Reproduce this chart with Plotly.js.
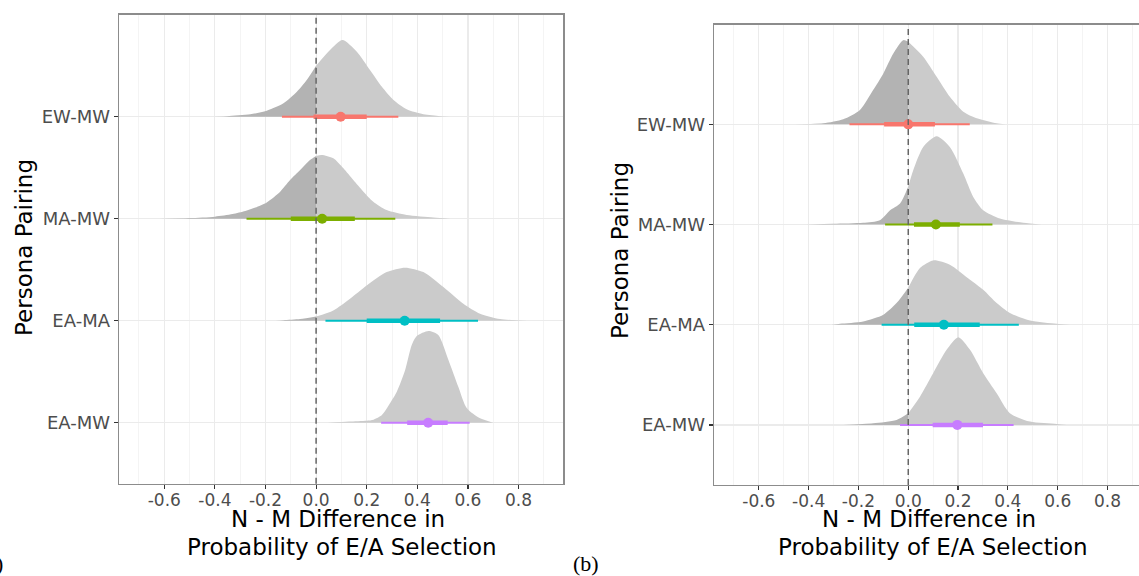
<!DOCTYPE html>
<html>
<head>
<meta charset="utf-8">
<script src="https://cdn.plot.ly/plotly-3.0.1.min.js"></script>
<style>html,body{margin:0;padding:0;background:#fff;}#chart{width:1139px;height:576px;}</style>
</head>
<body>
<div id="chart"></div>
<script>
// ---------- DATA ----------
// categories, bottom to top
const pairings = ['EA-MW', 'EA-MA', 'MA-MW', 'EW-MW'];
const xTickVals = [-0.6, -0.4, -0.2, 0, 0.2, 0.4, 0.6, 0.8];
const xTickText = ['-0.6', '-0.4', '-0.2', '0.0', '0.2', '0.4', '0.6', '0.8'];
const xMinorVals = [-0.7, -0.5, -0.3, -0.1, 0.1, 0.3, 0.5, 0.7, 0.9];

// Panel (a) interval summaries (order = pairings)
const aPoint = [0.443, 0.35, 0.024, 0.097];
const aLo66 = [0.36, 0.20, -0.10, -0.01];
const aHi66 = [0.52, 0.49, 0.153, 0.20];
const aLo95 = [0.257, 0.037, -0.275, -0.135];
const aHi95 = [0.607, 0.64, 0.313, 0.325];

// Panel (a) densities (x, height in row units)
const aEAMW_x = [0.045, 0.13, 0.2, 0.227, 0.26, 0.292, 0.319, 0.352, 0.378, 0.398, 0.444, 0.483, 0.523, 0.562, 0.596, 0.648, 0.70];
const aEAMW_h = [0, 0.012, 0.02, 0.03, 0.075, 0.19, 0.304, 0.517, 0.762, 0.85, 0.899, 0.86, 0.615, 0.353, 0.141, 0.043, 0];
const aEAMA_x = [-0.16, -0.129, -0.063, 0, 0.068, 0.134, 0.2, 0.279, 0.352, 0.424, 0.503, 0.582, 0.648, 0.727, 0.834];
const aEAMA_h = [0, 0.005, 0.016, 0.04, 0.101, 0.216, 0.346, 0.477, 0.52, 0.477, 0.33, 0.167, 0.069, 0.016, 0];
const aMAMW_x = [-0.62, -0.5, -0.4, -0.33, -0.28, -0.24, -0.195, -0.142, -0.103, -0.063, -0.024, 0, 0.022, 0.068, 0.108, 0.147, 0.187, 0.226, 0.279, 0.358, 0.464, 0.53];
const aMAMW_h = [0, 0.006, 0.02, 0.045, 0.075, 0.11, 0.16, 0.265, 0.379, 0.477, 0.575, 0.615, 0.625, 0.592, 0.494, 0.379, 0.265, 0.167, 0.085, 0.036, 0.012, 0];
const aEWMW_x = [-0.44, -0.353, -0.26, -0.195, -0.129, -0.076, -0.037, 0, 0.055, 0.104, 0.161, 0.213, 0.26, 0.306, 0.358, 0.424, 0.49, 0.53];
const aEWMW_h = [0, 0.005, 0.023, 0.059, 0.131, 0.245, 0.36, 0.5, 0.654, 0.752, 0.637, 0.458, 0.294, 0.164, 0.072, 0.023, 0.005, 0];

// Panel (b) interval summaries (order = pairings)
const bPoint = [0.197, 0.143, 0.111, 0.0];
const bLo66 = [0.098, 0.024, 0.023, -0.097];
const bHi66 = [0.30, 0.287, 0.207, 0.107];
const bLo95 = [-0.033, -0.107, -0.093, -0.236];
const bHi95 = [0.423, 0.444, 0.338, 0.247];

// Panel (b) densities
const bEAMW_x = [-0.26, -0.141, -0.047, 0, 0.047, 0.1, 0.154, 0.201, 0.248, 0.301, 0.355, 0.408, 0.489, 0.596, 0.637];
const bEAMW_h = [0, 0.017, 0.05, 0.117, 0.282, 0.516, 0.749, 0.875, 0.749, 0.516, 0.316, 0.117, 0.033, 0.01, 0];
const bEAMA_x = [-0.31, -0.274, -0.181, -0.1, -0.047, 0, 0.047, 0.1, 0.167, 0.248, 0.301, 0.355, 0.408, 0.489, 0.596, 0.652];
const bEAMA_h = [0, 0.01, 0.033, 0.1, 0.216, 0.37, 0.566, 0.642, 0.599, 0.449, 0.349, 0.216, 0.117, 0.043, 0.01, 0];
const bMAMW_x = [-0.41, -0.3, -0.181, -0.114, -0.073, -0.033, 0, 0.02, 0.06, 0.114, 0.167, 0.221, 0.261, 0.301, 0.368, 0.462, 0.536];
const bMAMW_h = [0, 0.007, 0.017, 0.043, 0.143, 0.21, 0.38, 0.542, 0.775, 0.881, 0.775, 0.509, 0.276, 0.143, 0.06, 0.017, 0];
const bEWMW_x = [-0.484, -0.341, -0.261, -0.194, -0.141, -0.1, -0.06, -0.02, 0, 0.06, 0.114, 0.167, 0.221, 0.275, 0.355, 0.39];
const bEWMW_h = [0, 0.01, 0.05, 0.143, 0.342, 0.509, 0.708, 0.841, 0.824, 0.675, 0.475, 0.275, 0.126, 0.06, 0.01, 0];

// ---------- STYLE ----------
const intervalColors = ['#C77CFF', '#00BFC4', '#7CAE00', '#F8766D'];
const darkFill = '#b3b3b3';
const lightFill = '#cbcbcb';
const FONT = 'DejaVu Sans, sans-serif';

const traces = [];

function addDensity(dx, dh, cat, xa, ya) {
  const parts = [
    { sel: v => v <= 0, color: darkFill },
    { sel: v => v >= 0, color: lightFill }
  ];
  parts.forEach(p => {
    const px = [], py = [];
    dx.forEach((v, i) => { if (p.sel(v)) { px.push(v); py.push(cat + dh[i]); } });
    if (px.length < 2) return;
    traces.push({ x: [px[0], px[px.length - 1]], y: [cat, cat], mode: 'lines',
      line: { width: 0 }, hoverinfo: 'skip', xaxis: xa, yaxis: ya });
    traces.push({ x: px, y: py, mode: 'lines', fill: 'tonexty', fillcolor: p.color,
      line: { width: 0, shape: 'spline', smoothing: 0.7, color: p.color },
      hoverinfo: 'skip', xaxis: xa, yaxis: ya });
  });
}

function addIntervals(pt, lo66, hi66, lo95, hi95, xa, ya) {
  pt.forEach((v, i) => {
    const cat = i + 1;
    traces.push({ x: [lo95[i], hi95[i]], y: [cat, cat], mode: 'lines',
      line: { color: intervalColors[i], width: 2 }, xaxis: xa, yaxis: ya, hoverinfo: 'skip' });
    traces.push({ x: [lo66[i], hi66[i]], y: [cat, cat], mode: 'lines',
      line: { color: intervalColors[i], width: 4.5 }, xaxis: xa, yaxis: ya, hoverinfo: 'skip' });
    traces.push({ x: [v], y: [cat], mode: 'markers',
      marker: { color: intervalColors[i], size: 10 }, xaxis: xa, yaxis: ya, hoverinfo: 'skip' });
  });
}

addDensity(aEAMW_x, aEAMW_h, 1, 'x', 'y');
addDensity(aEAMA_x, aEAMA_h, 2, 'x', 'y');
addDensity(aMAMW_x, aMAMW_h, 3, 'x', 'y');
addDensity(aEWMW_x, aEWMW_h, 4, 'x', 'y');
addDensity(bEAMW_x, bEAMW_h, 1, 'x2', 'y2');
addDensity(bEAMA_x, bEAMA_h, 2, 'x2', 'y2');
addDensity(bMAMW_x, bMAMW_h, 3, 'x2', 'y2');
addDensity(bEWMW_x, bEWMW_h, 4, 'x2', 'y2');
addIntervals(aPoint, aLo66, aHi66, aLo95, aHi95, 'x', 'y');
addIntervals(bPoint, bLo66, bHi66, bLo95, bHi95, 'x2', 'y2');

const W = 1139, H = 576;
const px = v => v / W;
const py = v => (H - v) / H;

function xAxis(domain, range, anchor, mirror) {
  return {
    domain: domain, range: range, anchor: anchor,
    tickmode: 'array', tickvals: xTickVals, ticktext: xTickText,
    ticks: 'outside', ticklen: 4, tickwidth: 1.2, tickcolor: '#333333',
    ticklabelstandoff: -4,
    tickfont: { family: FONT, size: 17, color: '#4d4d4d' },
    showgrid: true, gridcolor: '#ebebeb', gridwidth: 1.2,
    minor: { tickmode: 'array', tickvals: xMinorVals, showgrid: true, gridcolor: '#f4f4f4', gridwidth: 1, ticks: '' },
    zeroline: false, showline: true, mirror: mirror, linecolor: '#8c8c8c', linewidth: 1.4,
    fixedrange: true
  };
}
function yAxis(domain, range, anchor, mirror) {
  return {
    domain: domain, range: range, anchor: anchor,
    tickmode: 'array', tickvals: [1, 2, 3, 4], ticktext: pairings,
    ticks: 'outside', ticklen: 4, tickwidth: 1.2, tickcolor: '#333333',
    tickfont: { family: FONT, size: 18, color: '#4d4d4d' },
    showgrid: true, gridcolor: '#ebebeb', gridwidth: 1.5,
    zeroline: false, showline: true, mirror: mirror, linecolor: '#8c8c8c', linewidth: 1.4,
    fixedrange: true
  };
}

const titleFont = { family: FONT, size: 23, color: '#000000' };

const layout = {
  width: W, height: H,
  margin: { l: 0, r: 0, t: 0, b: 0 },
  paper_bgcolor: '#ffffff', plot_bgcolor: '#ffffff',
  showlegend: false,
  xaxis: xAxis([px(119), px(563.3)], [-0.779, 0.977], 'y', true),
  yaxis: yAxis([py(483.7), py(14.7)], [0.402, 5.0], 'x', true),
  xaxis2: xAxis([px(714), 1], [-0.78, 0.9265], 'y2', true),
  yaxis2: yAxis([py(485), py(24.7)], [0.4, 4.995], 'x2', false),
  shapes: [
    { type: 'line', xref: 'x', yref: 'y domain', x0: 0, x1: 0, y0: 0, y1: 1,
      line: { color: '#666666', width: 1.5, dash: '6px,4px' }, layer: 'above' },
    { type: 'line', xref: 'x2', yref: 'y2 domain', x0: 0, x1: 0, y0: 0, y1: 1,
      line: { color: '#666666', width: 1.5, dash: '6px,4px' }, layer: 'above' }
  ],
  annotations: [
    { text: 'Persona Pairing', textangle: -90, xref: 'paper', yref: 'paper', x: px(24), y: py(248),
      xanchor: 'center', yanchor: 'middle', showarrow: false, font: titleFont },
    { text: 'Persona Pairing', textangle: -90, xref: 'paper', yref: 'paper', x: px(620), y: py(251),
      xanchor: 'center', yanchor: 'middle', showarrow: false, font: titleFont },
    { text: 'N - M Difference in', xref: 'paper', yref: 'paper', x: px(338), y: py(519),
      xanchor: 'center', yanchor: 'middle', showarrow: false, font: titleFont },
    { text: 'Probability of E/A Selection', xref: 'paper', yref: 'paper', x: px(341.5), y: py(547),
      xanchor: 'center', yanchor: 'middle', showarrow: false, font: titleFont },
    { text: 'N - M Difference in', xref: 'paper', yref: 'paper', x: px(929), y: py(519),
      xanchor: 'center', yanchor: 'middle', showarrow: false, font: titleFont },
    { text: 'Probability of E/A Selection', xref: 'paper', yref: 'paper', x: px(933), y: py(547),
      xanchor: 'center', yanchor: 'middle', showarrow: false, font: titleFont },
    { text: '(b)', xref: 'paper', yref: 'paper', x: px(586), y: py(563),
      xanchor: 'center', yanchor: 'middle', showarrow: false,
      font: { family: 'Liberation Serif, serif', size: 22, color: '#000000' } },
    { text: '(a)', xref: 'paper', yref: 'paper', x: px(5), y: py(563),
      xanchor: 'right', yanchor: 'middle', showarrow: false,
      font: { family: 'Liberation Serif, serif', size: 22, color: '#000000' } }
  ]
};

Plotly.newPlot('chart', traces, layout, { staticPlot: true, displayModeBar: false });
</script>
</body>
</html>
